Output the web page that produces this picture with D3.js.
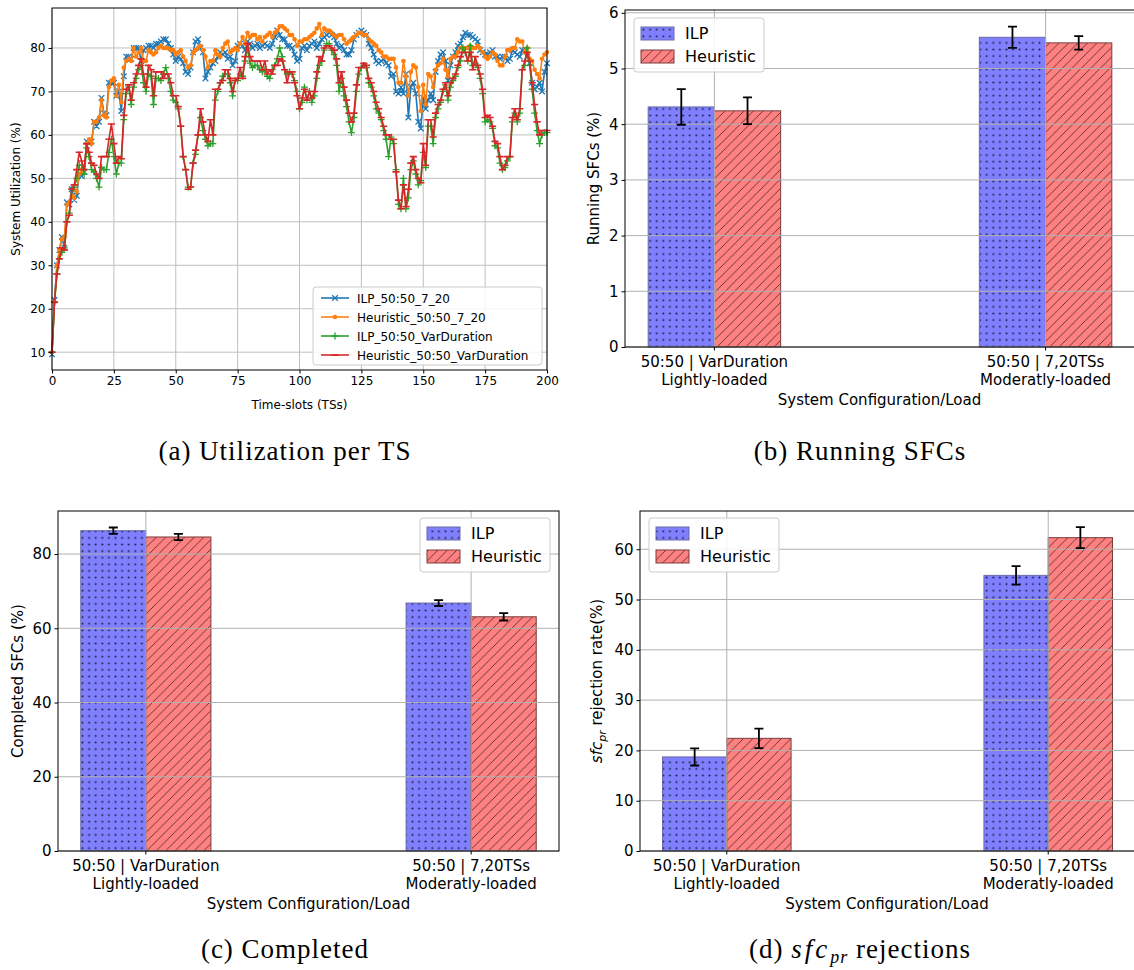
<!DOCTYPE html>
<html>
<head>
<meta charset="utf-8">
<script src="https://cdn.jsdelivr.net/npm/d3@7"></script>
<style>
  body { margin: 0; background: #fff; }
  text { font-family: "DejaVu Sans", sans-serif; fill: #000; }
  .cap { font-family: "Liberation Serif", "DejaVu Serif", serif; letter-spacing: 1px; }
</style>
</head>
<body>
<svg id="fig" width="1134" height="970"></svg>
<script>
// ---------- (a) utilization per time-slot ----------
const timeSlots = d3.range(0, 201);

const ilp720 = [
  9.5, 22, 30, 33.5, 36.5, 34, 44.5, 44, 47.5, 45,
  46, 51, 50.5, 51.5, 58.5, 58, 58.5, 63, 62, 63,
  68.5, 65, 64.5, 72, 72, 72, 69, 70, 65.5, 73.5,
  78, 78, 77.5, 80, 80, 80, 77, 79.5, 80, 80.5,
  80.5, 80, 81, 81, 81.5, 82, 82, 81, 80, 78.5,
  77, 78, 77.5, 76.5, 74.5, 74, 75.5, 79, 81.5, 82,
  80, 79, 73, 74.5, 75.5, 76.5, 77, 78, 79, 78.5,
  79, 77.5, 78, 76, 77, 80.5, 81, 80.5, 79.5, 81.5,
  81, 80, 80.5, 81, 80, 80.5, 81, 80.5, 80, 81,
  82.5, 84, 83, 82, 82, 80.5, 80.5, 80, 78.5, 77,
  77.5, 80, 80.5, 79.5, 80.5, 81, 81.5, 80, 81, 82,
  82.5, 83, 83.5, 83, 82.5, 81, 80, 80.5, 79.5, 78.5,
  78.5, 79.5, 82, 83, 83.5, 84, 83.5, 83, 81, 80,
  78.5, 77, 76.5, 77, 77.5, 76.5, 76, 73.5, 74, 70,
  69.5, 71, 69.5, 74, 64, 71, 72, 69.5, 63, 61.5,
  68.5, 66, 68, 69.5, 68, 74.5, 77, 78.5, 79, 77,
  72.5, 76, 78, 79, 80.5, 81, 82.5, 83.5, 83, 83,
  82.5, 82, 81.5, 79.5, 79, 78.5, 78.5, 79, 79.5, 78,
  78, 77.5, 78, 78, 77, 77.5, 79.5, 79, 78.5, 78,
  79.5, 79.5, 78, 76.5, 72, 70.5, 71, 72, 70, 74.5,
  76.5
];

const heur720 = [
  10, 21.5, 30, 33.5, 36, 36.5, 44, 44.5, 46, 45.5,
  47, 51, 52, 51.5, 58, 59, 58, 63, 63, 64,
  68, 64.5, 64, 71, 72.5, 73, 69, 71.5, 67.5, 75.5,
  77, 77.5, 77, 80, 78, 79, 80, 77, 77, 79.5,
  79, 78.5, 79, 80, 80.5, 80, 80, 80, 79.5, 79.5,
  78.5, 79, 79.5, 78, 77, 75.5, 76, 79, 79.5, 80,
  80.5, 79.5, 78, 75.5, 77, 77, 79.5, 78.5, 78, 80,
  81, 81.5, 79, 79.5, 80, 79.5, 81, 82.5, 81, 83.5,
  82.5, 83, 83, 82, 82.5, 81.5, 82.5, 83, 83.5, 82.5,
  83.5, 84, 85, 85, 84.5, 84, 83, 83, 82, 80.5,
  81.5, 81.5, 82, 82, 82.5, 83, 83.5, 84.5, 85.5, 83,
  84.5, 84, 84, 83.5, 83, 82.5, 83, 83, 82, 81,
  81.5, 82, 82.5, 83, 83.5, 83.5, 83, 83, 82, 81.5,
  81, 80.5, 79.5, 79, 78, 78, 77.5, 77.5, 77.5, 75.5,
  72, 72, 77, 73.5, 69, 74.5, 76, 75.5, 71, 65.5,
  71.5, 67, 74, 73.5, 71, 75, 76, 76.5, 77.5, 75,
  73.5, 77.5, 78, 78, 79, 80, 80, 80, 80, 80.5,
  80, 80, 80.5, 80, 79, 78, 77.5, 78, 79, 78.5,
  77, 76, 76, 78, 79.5, 79.5, 80, 80, 82, 81.5,
  81.5, 79, 80, 77.5, 77, 75, 74, 73, 77.5, 78.5,
  79
];

const ilpVar = [
  10, 21.5, 28, 31.5, 33, 34, 40, 42, 47.5, 48,
  50, 53, 53, 51, 57, 55, 52, 51.5, 50, 48,
  52.5, 52, 52, 56, 59, 55, 51, 53.5, 53.5, 63.5,
  69.5, 71, 67, 71, 73, 75, 76, 72, 70, 74,
  73.5, 67, 73, 73, 72.5, 74, 75.5, 73, 70, 68,
  67.5, 66, 62, 55, 52, 48, 48, 53.5, 55.5, 60,
  64, 61, 59, 57.5, 58, 58, 68, 70, 72, 73.5,
  74, 74, 72, 69, 72.5, 72.5, 74, 73.5, 77, 80,
  76.5, 75.5, 76, 76, 75, 74.5, 75, 73.5, 73, 75,
  76, 77.5, 80, 78, 75, 74, 74.5, 74, 72.5, 70,
  66, 67.5, 71, 68, 70, 67.5, 69, 73, 76, 77,
  79.5, 81, 81, 79.5, 78.5, 76, 70, 73, 69, 66.5,
  63, 60.5, 64, 70, 74, 75.5, 76, 75.5, 72, 71,
  69, 66, 65, 63.5, 61, 59, 55, 59.5, 58, 52,
  44, 43, 50, 43, 45.5, 52, 54, 51, 48.5, 49.5,
  56, 52.5, 62, 62, 58, 64, 66, 67.5, 70, 71.5,
  68, 71, 72.5, 73.5, 75.5, 77, 80, 79, 77, 80.5,
  76, 76.5, 75.5, 73, 69.5, 63, 63.5, 63, 61.5, 57.5,
  57, 53.5, 52, 52.5, 54, 55, 63, 65, 63, 65,
  75, 76, 80, 76, 70.5, 65, 61, 58, 60, 60.5,
  60.5
];

const heurVar = [
  10, 21.5, 28, 31.5, 34, 33.5, 40, 41.5, 47.5, 48.5,
  52, 56, 54, 52, 58, 56, 53.5, 53, 51, 50,
  55, 55, 55, 59, 62.5, 58, 53.5, 55, 54.5, 64.5,
  70.5, 71.5, 68, 72, 74, 76, 77.5, 74, 71, 76,
  75, 69, 74.5, 74.5, 74.5, 73, 74, 74, 72, 69,
  69, 66.5, 62, 55, 52, 47.5, 48, 53.5, 56.5, 60,
  66, 63, 60, 58.5, 63.5, 60, 70.5, 70.5, 72, 72.5,
  75, 75, 73, 70, 72.5, 73, 75.5, 73, 78, 81,
  78, 77, 77, 77, 77, 75, 77, 74, 75, 74,
  76, 76, 77.5, 77, 75, 72, 74.5, 74.5, 72, 69,
  66, 68.5, 70.5, 68, 70, 68.5, 70, 74.5, 78, 77,
  80, 80.5, 80.5, 80, 79.5, 77.5, 72, 74.5, 71, 68,
  65, 63, 65, 71.5, 75.5, 75.5, 76.5, 76, 73, 72,
  70, 67.5, 66, 64, 62, 60, 60, 59, 59, 51.5,
  45, 43, 48.5, 43.5, 47.5, 53.5, 55, 52, 50, 49,
  58, 53, 63.5, 63.5, 59.5, 65, 67, 68, 70.5, 72,
  69, 72, 73, 74, 76, 78, 79, 79, 77, 79,
  75, 78, 76, 74, 70.5, 64, 64.5, 64, 62, 58.5,
  58, 55, 52, 53, 55, 55, 64, 66, 63.5, 66,
  75, 77, 79, 77, 72, 67, 63, 60, 61, 61,
  61
];

const seriesNames = ["ILP_50:50_7_20", "Heuristic_50:50_7_20", "ILP_50:50_VarDuration", "Heuristic_50:50_VarDuration"];
const seriesColors = ["#1f77b4", "#ff7f0e", "#2ca02c", "#d62728"];
const seriesMarkers = ["x", "dot", "plus", "hline"];
const utilXTicks = [0, 25, 50, 75, 100, 125, 150, 175, 200];
const utilYTicks = [10, 20, 30, 40, 50, 60, 70, 80];

// ---------- (b)-(d) bar panels ----------
const configLabels = ["50:50 | VarDuration", "50:50 | 7,20TSs"];
const loadLabels = ["Lightly-loaded", "Moderatly-loaded"];
const methodNames = ["ILP", "Heuristic"];

const runningILP = [4.31, 5.56];
const runningILPErr = [0.32, 0.19];
const runningHeur = [4.24, 5.46];
const runningHeurErr = [0.24, 0.12];
const runningTicks = [0, 1, 2, 3, 4, 5, 6];

const completedILP = [86.3, 66.8];
const completedILPErr = [0.85, 0.8];
const completedHeur = [84.6, 63.1];
const completedHeurErr = [0.85, 1.0];
const completedTicks = [0, 20, 40, 60, 80];

const rejectILP = [18.7, 54.8];
const rejectILPErr = [1.7, 1.85];
const rejectHeur = [22.4, 62.3];
const rejectHeurErr = [1.95, 2.1];
const rejectTicks = [0, 10, 20, 30, 40, 50, 60];

const svg = d3.select("#fig");
svg.append("rect").attr("width", 1134).attr("height", 970).attr("fill", "#fff");
const defs = svg.append("defs");

// hatch fills: dotted blue for ILP, diagonal red for Heuristic
const dots = defs.append("pattern").attr("id", "hatchDots")
  .attr("patternUnits", "userSpaceOnUse").attr("width", 6.6).attr("height", 6.6);
dots.append("rect").attr("width", 6.6).attr("height", 6.6).attr("fill", "#8080ff");
dots.append("circle").attr("cx", 3.3).attr("cy", 3.3).attr("r", 1).attr("fill", "#1a1a40");

const diag = defs.append("pattern").attr("id", "hatchDiag")
  .attr("patternUnits", "userSpaceOnUse").attr("width", 9.5).attr("height", 9.5);
diag.append("rect").attr("width", 9.5).attr("height", 9.5).attr("fill", "#ff8080");
diag.append("path").attr("d", "M0,9.5L9.5,0M-1,1L1,-1M8.5,10.5L10.5,8.5")
  .attr("stroke", "#4d2b2b").attr("stroke-width", 0.85);

const fills = ["url(#hatchDots)", "url(#hatchDiag)"];

function markerPath(type, x, y) {
  if (type === "x") return `M${x-2.8},${y-2.8}L${x+2.8},${y+2.8}M${x-2.8},${y+2.8}L${x+2.8},${y-2.8}`;
  if (type === "plus") return `M${x-3.4},${y}L${x+3.4},${y}M${x},${y-3.4}L${x},${y+3.4}`;
  if (type === "hline") return `M${x-3.6},${y}L${x+3.6},${y}`;
  return "";
}

function drawMarkers(g, type, pts, color) {
  if (type === "dot") {
    g.selectAll(null).data(pts).enter().append("circle")
      .attr("cx", d => d[0]).attr("cy", d => d[1]).attr("r", 2.3).attr("fill", color);
  } else {
    g.append("path").attr("d", pts.map(p => markerPath(type, p[0], p[1])).join(""))
      .attr("fill", "none").attr("stroke", color)
      .attr("stroke-width", type === "hline" ? 1.6 : 1.3);
  }
}

// ================= (a) =================
(function () {
  const L = 52, R = 547, T = 8, B = 370;
  const x = d3.scaleLinear().domain([0, 200]).range([L, R]);
  const y = d3.scaleLinear().domain([5.9, 89.2]).range([B, T]);
  const g = svg.append("g");

  // grid
  g.append("g").selectAll("line").data(utilXTicks).enter().append("line")
    .attr("x1", d => x(d)).attr("x2", d => x(d)).attr("y1", T).attr("y2", B)
    .attr("stroke", "#bfbfbf").attr("stroke-width", 1);
  g.append("g").selectAll("line").data(utilYTicks).enter().append("line")
    .attr("x1", L).attr("x2", R).attr("y1", d => y(d)).attr("y2", d => y(d))
    .attr("stroke", "#bfbfbf").attr("stroke-width", 1);

  // series
  const allSeries = [ilp720, heur720, ilpVar, heurVar];
  const line = d3.line().x((d, i) => x(timeSlots[i])).y(d => y(d));
  allSeries.forEach((vals, k) => {
    const sg = g.append("g");
    sg.append("path").datum(vals).attr("d", line)
      .attr("fill", "none").attr("stroke", seriesColors[k]).attr("stroke-width", 1.6)
      .attr("stroke-linejoin", "round");
    drawMarkers(sg, seriesMarkers[k], vals.map((v, i) => [x(timeSlots[i]), y(v)]), seriesColors[k]);
  });

  // frame
  g.append("rect").attr("x", L).attr("y", T).attr("width", R - L).attr("height", B - T)
    .attr("fill", "none").attr("stroke", "#000").attr("stroke-width", 1);

  // axes
  const xa = g.append("g").attr("transform", `translate(0,${B})`)
    .call(d3.axisBottom(x).tickValues(utilXTicks).tickSize(3.5).tickSizeOuter(0).tickPadding(3));
  const ya = g.append("g").attr("transform", `translate(${L},0)`)
    .call(d3.axisLeft(y).tickValues(utilYTicks).tickSize(3.5).tickSizeOuter(0).tickPadding(3));
  [xa, ya].forEach(a => {
    a.select(".domain").remove();
    a.selectAll("text").attr("font-size", 12).attr("font-family", "DejaVu Sans").attr("fill", "#000");
    a.selectAll("line").attr("stroke", "#000");
  });

  g.append("text").attr("x", (L + R) / 2).attr("y", 409).attr("text-anchor", "middle")
    .attr("font-size", 12).text("Time-slots (TSs)");
  g.append("text").attr("transform", `translate(20,${(T + B) / 2}) rotate(-90)`)
    .attr("text-anchor", "middle").attr("font-size", 12).text("System Utilization (%)");

  // legend
  const lg = g.append("g");
  lg.append("rect").attr("x", 313).attr("y", 287).attr("width", 229).attr("height", 78)
    .attr("rx", 3).attr("fill", "#fff").attr("fill-opacity", 0.85)
    .attr("stroke", "#cccccc").attr("stroke-width", 1);
  seriesNames.forEach((name, k) => {
    const ly = 298 + k * 19;
    lg.append("line").attr("x1", 321).attr("x2", 349).attr("y1", ly).attr("y2", ly)
      .attr("stroke", seriesColors[k]).attr("stroke-width", 1.6);
    drawMarkers(lg, seriesMarkers[k], [[335, ly]], seriesColors[k]);
    lg.append("text").attr("x", 357).attr("y", ly + 4.5).attr("font-size", 12).text(name);
  });

  svg.append("text").attr("class", "cap").attr("x", 285).attr("y", 460)
    .attr("text-anchor", "middle").attr("font-size", 27).text("(a) Utilization per TS");
})();

// ================= bar panels =================
function barPanel(cfg) {
  const { L, R, T, B, yMax, ticks, ilp, ilpErr, heur, heurErr, legend, ylabelX } = cfg;
  const x = d3.scaleLinear().domain([-0.27, 1.27]).range([L, R]);
  const y = d3.scaleLinear().domain([0, yMax]).range([B, T]);
  const g = svg.append("g");
  const bw = 0.2;

  const values = [ilp, heur];
  const errs = [ilpErr, heurErr];

  // bars
  values.forEach((vals, m) => {
    g.append("g").selectAll("rect").data(vals).enter().append("rect")
      .attr("x", (d, i) => x(i + (m === 0 ? -bw : 0)))
      .attr("width", x(bw) - x(0))
      .attr("y", d => y(d))
      .attr("height", d => y(0) - y(d))
      .attr("fill", fills[m])
      .attr("stroke", m === 0 ? "#6a6aa8" : "#7a3d3d").attr("stroke-width", 1);
  });

  // grid drawn over the bars
  g.append("g").selectAll("line").data(ticks).enter().append("line")
    .attr("x1", L).attr("x2", R).attr("y1", d => y(d)).attr("y2", d => y(d))
    .attr("stroke", "#b0b0b0").attr("stroke-width", 1);
  g.append("g").selectAll("line").data([0, 1]).enter().append("line")
    .attr("x1", d => x(d)).attr("x2", d => x(d)).attr("y1", T).attr("y2", B)
    .attr("stroke", "#b0b0b0").attr("stroke-width", 1);

  // error bars
  values.forEach((vals, m) => {
    const eg = g.append("g").attr("stroke", "#000").attr("stroke-width", 1.8).attr("fill", "none");
    vals.forEach((v, i) => {
      const cx = x(i + (m === 0 ? -bw / 2 : bw / 2));
      const e = errs[m][i];
      eg.append("path").attr("d",
        `M${cx},${y(v - e)}L${cx},${y(v + e)}M${cx - 4.5},${y(v - e)}L${cx + 4.5},${y(v - e)}M${cx - 4.5},${y(v + e)}L${cx + 4.5},${y(v + e)}`);
    });
  });

  // frame
  g.append("rect").attr("x", L).attr("y", T).attr("width", R - L).attr("height", B - T)
    .attr("fill", "none").attr("stroke", "#000").attr("stroke-width", 1);

  // y axis
  const ya = g.append("g").attr("transform", `translate(${L},0)`)
    .call(d3.axisLeft(y).tickValues(ticks).tickFormat(d3.format("d")).tickSize(3.5).tickSizeOuter(0).tickPadding(3));
  ya.select(".domain").remove();
  ya.selectAll("text").attr("font-size", 15).attr("font-family", "DejaVu Sans").attr("fill", "#000");
  ya.selectAll("line").attr("stroke", "#000");

  // x ticks and two-line labels
  [0, 1].forEach(i => {
    g.append("line").attr("x1", x(i)).attr("x2", x(i)).attr("y1", B).attr("y2", B + 3.5).attr("stroke", "#000");
    g.append("text").attr("x", x(i)).attr("y", B + 20).attr("text-anchor", "middle")
      .attr("font-size", 15).text(configLabels[i]);
    g.append("text").attr("x", x(i)).attr("y", B + 38).attr("text-anchor", "middle")
      .attr("font-size", 15).text(loadLabels[i]);
  });
  g.append("text").attr("x", (x(-0.27) + Math.min(x(1.27), 1134)) / 2).attr("y", B + 58)
    .attr("text-anchor", "middle").attr("font-size", 15).text("System Configuration/Load");

  // y label
  const yl = g.append("text").attr("transform", `translate(${ylabelX},${(T + B) / 2}) rotate(-90)`)
    .attr("text-anchor", "middle").attr("font-size", 15);
  cfg.ylabel(yl);

  // legend
  const lg = g.append("g");
  lg.append("rect").attr("x", legend.x).attr("y", legend.y).attr("width", 130).attr("height", 54)
    .attr("rx", 3).attr("fill", "#fff").attr("fill-opacity", 0.85)
    .attr("stroke", "#cccccc").attr("stroke-width", 1);
  methodNames.forEach((name, m) => {
    const py = legend.y + 9 + m * 23;
    lg.append("rect").attr("x", legend.x + 7).attr("y", py).attr("width", 33).attr("height", 13)
      .attr("fill", fills[m]).attr("stroke", m === 0 ? "#6a6aa8" : "#7a3d3d").attr("stroke-width", 1);
    lg.append("text").attr("x", legend.x + 51).attr("y", py + 12).attr("font-size", 16).text(name);
  });

  // caption
  const cap = svg.append("text").attr("class", "cap").attr("x", cfg.capX).attr("y", cfg.capY)
    .attr("text-anchor", "middle").attr("font-size", 27);
  cfg.caption(cap);
}

barPanel({
  L: 625, R: 1135, T: 10, B: 347, yMax: 6.05, ticks: runningTicks,
  ilp: runningILP, ilpErr: runningILPErr, heur: runningHeur, heurErr: runningHeurErr,
  legend: { x: 634, y: 18 }, ylabelX: 599,
  ylabel: t => t.text("Running SFCs (%)"),
  capX: 860, capY: 460,
  caption: t => t.text("(b) Running SFCs")
});

barPanel({
  L: 58, R: 559, T: 511, B: 851, yMax: 91.6, ticks: completedTicks,
  ilp: completedILP, ilpErr: completedILPErr, heur: completedHeur, heurErr: completedHeurErr,
  legend: { x: 420, y: 518 }, ylabelX: 23,
  ylabel: t => t.text("Completed SFCs (%)"),
  capX: 285, capY: 958,
  caption: t => t.text("(c) Completed")
});

barPanel({
  L: 640, R: 1135, T: 511, B: 851, yMax: 67.6, ticks: rejectTicks,
  ilp: rejectILP, ilpErr: rejectILPErr, heur: rejectHeur, heurErr: rejectHeurErr,
  legend: { x: 649, y: 518 }, ylabelX: 602,
  ylabel: t => {
    t.append("tspan").attr("font-style", "italic").text("sfc");
    t.append("tspan").attr("font-style", "italic").attr("font-size", 11).attr("dy", 4).text("pr");
    t.append("tspan").attr("dy", -4).text(" rejection rate(%)");
  },
  capX: 860, capY: 958,
  caption: t => {
    t.append("tspan").text("(d) ");
    t.append("tspan").attr("font-style", "italic").attr("letter-spacing", 3).text("sfc");
    t.append("tspan").attr("font-style", "italic").attr("font-size", 18).attr("dy", 5).text("pr");
    t.append("tspan").attr("dy", -5).text(" rejections");
  }
});
</script>
</body>
</html>
